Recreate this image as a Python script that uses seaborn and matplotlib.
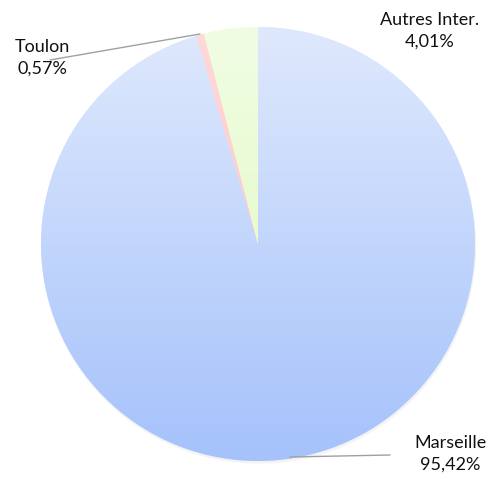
import numpy as np
import matplotlib.pyplot as plt
import seaborn as sns
from matplotlib.colors import LinearSegmentedColormap
from matplotlib.patches import Circle

sns.set_theme(style="white")
plt.rcParams['font.family'] = ['Lato', 'DejaVu Sans']

# data
labels = ["Marseille", "Toulon", "Autres Inter."]
shares = [95.42, 0.57, 4.01]
pct_text = ["95,42%", "0,57%", "4,01%"]
top_colors = ["#dfe9fd", "#ffd9d9", "#f1fde3"]
bottom_colors = ["#a5c2fb", "#ffbcbc", "#dcf9bd"]

W, H = 492, 479
fig = plt.figure(figsize=(W / 100, H / 100), dpi=100)
ax = fig.add_axes([0, 0, 1, 1])

cx, cy, r = 258, H - 244, 217

# soft shadow
for i, a in enumerate([0.04, 0.05]):
    ax.add_patch(Circle((cx + 0.5 + i * 0.5, cy - 2 - i * 0.5), r + 0.3, color="#808080", alpha=a, lw=0, zorder=0))

wedges, _ = ax.pie(shares, startangle=90, counterclock=False, center=(cx, cy), radius=r,
                   colors=top_colors, wedgeprops=dict(linewidth=0), frame=True)
ax.set_xlim(0, W)
ax.set_ylim(0, H)
ax.set_aspect("equal")
ax.axis("off")

grad = np.linspace(0, 1, 256).reshape(-1, 1)
for w, c0, c1 in zip(wedges, top_colors, bottom_colors):
    cmap = LinearSegmentedColormap.from_list("g", [c0, c1])
    im = ax.imshow(grad, cmap=cmap, extent=[cx - r, cx + r, cy - r, cy + r], origin="upper",
                   aspect="auto", zorder=2)
    im.set_clip_path(w)

# labels with leader lines
fs = 13
ax.text(42, H - 58, f"{labels[1]}\n{pct_text[1]}", ha="center", va="center", fontsize=fs,
        linespacing=1.4, color="#111111")
ax.plot([50, 200], [H - 60, H - 34], color="#a0a0a0", lw=1, zorder=3)

ax.text(430, H - 31, f"{labels[2]}\n{pct_text[2]}", ha="center", va="center", fontsize=fs,
        linespacing=1.4, color="#111111")

ax.text(450, H - 454, f"{labels[0]}\n{pct_text[0]}", ha="center", va="center", fontsize=fs,
        linespacing=1.4, color="#111111")
ax.plot([290, 390], [H - 457, H - 455], color="#a0a0a0", lw=1, zorder=3)

fig.savefig("out.png", dpi=100)
